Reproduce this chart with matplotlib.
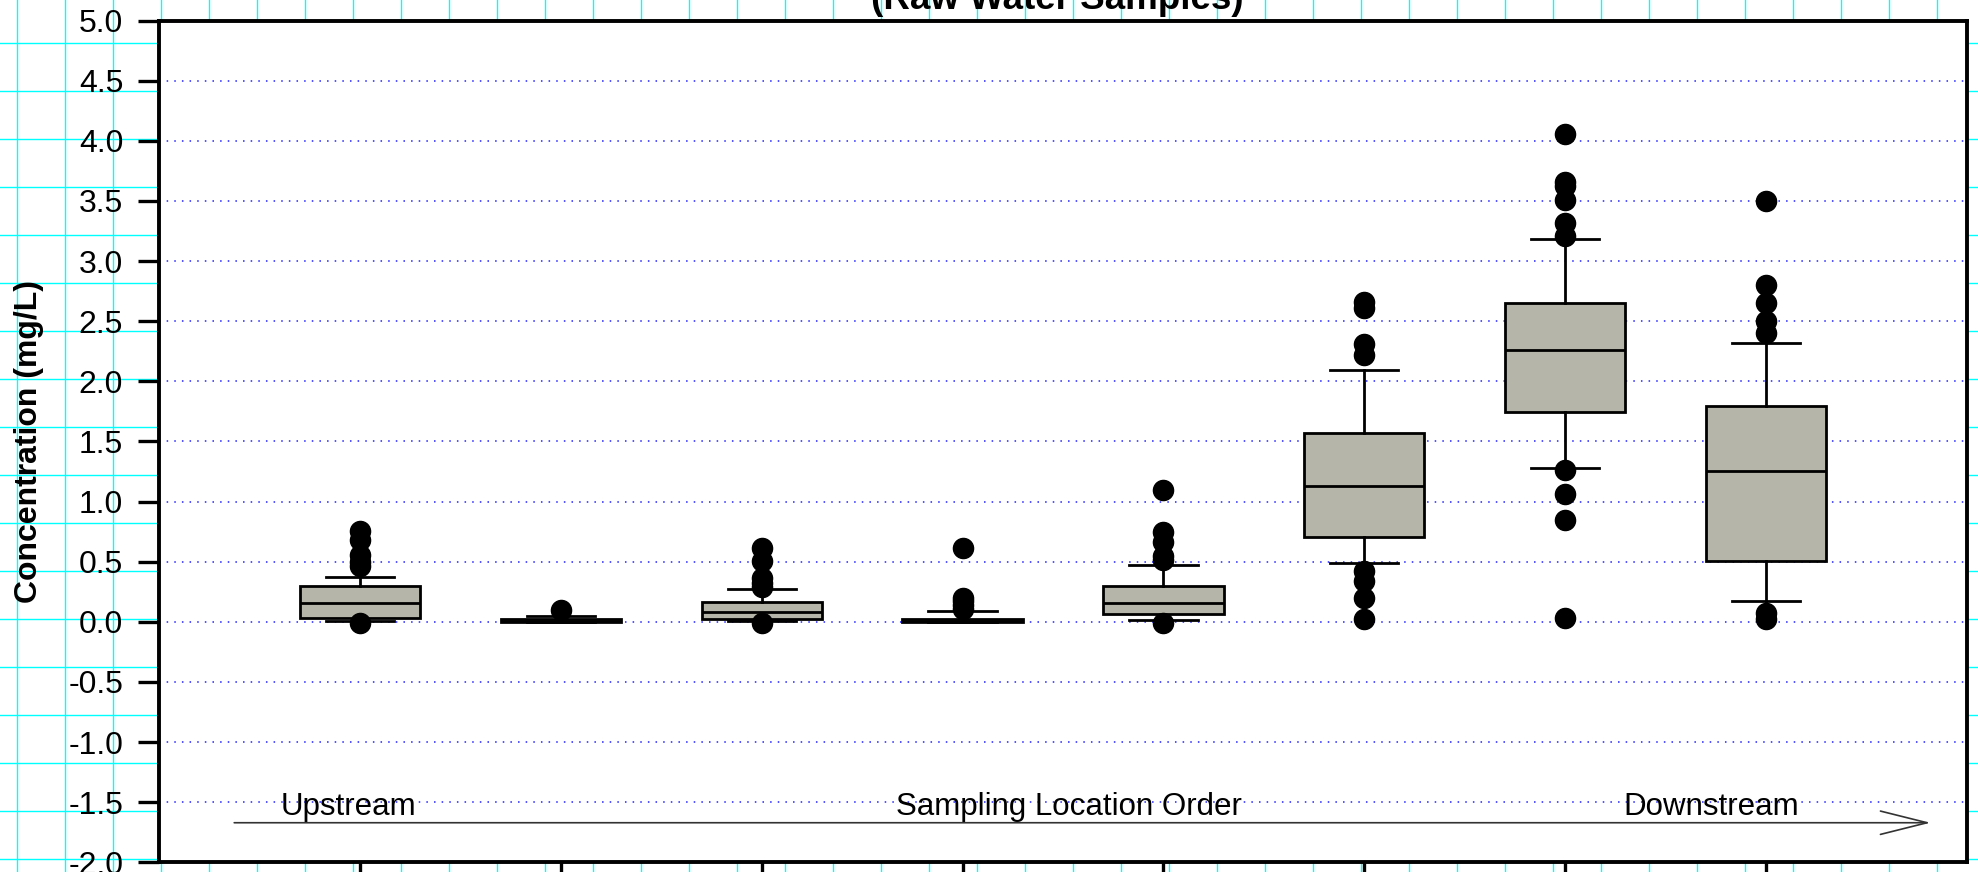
import numpy as np
import matplotlib
matplotlib.use('Agg')
from matplotlib import pyplot as plt

# box statistics per sampling location (upstream -> downstream)
q1 = [0.033, 0.0, 0.022, 0.0, 0.064, 0.706, 1.745, 0.505]
med = [0.153, 0.01, 0.078, 0.008, 0.153, 1.129, 2.261, 1.25]
q3 = [0.30, 0.025, 0.161, 0.02, 0.30, 1.573, 2.647, 1.797]
whislo = [0.01, 0.0, 0.01, 0.0, 0.014, 0.491, 1.278, 0.17]
whishi = [0.374, 0.05, 0.272, 0.089, 0.469, 2.097, 3.183, 2.318]
fliers = [
    [0.756, 0.68, 0.556, 0.5, 0.465, -0.01],
    [0.097],
    [0.61, 0.507, 0.36, 0.32, 0.29, -0.01],
    [0.615, 0.2, 0.17, 0.14, 0.11],
    [1.10, 0.748, 0.665, 0.55, 0.51, -0.01],
    [2.66, 2.61, 2.31, 2.22, 0.42, 0.34, 0.2, 0.02],
    [4.06, 3.66, 3.62, 3.51, 3.32, 3.21, 1.26, 1.06, 0.85, 0.03],
    [3.50, 2.80, 2.65, 2.50, 2.40, 0.07, 0.02],
]
y_ticks = np.arange(-2.0, 5.01, 0.5)

W, H = 1978, 872


def pre_config():
    plt.rcParams['font.family'] = ['Liberation Sans', 'DejaVu Sans']


def graph_paper(fig):
    # cyan grid behind everything, in pixel units
    bg = fig.add_axes([0, 0, 1, 1], zorder=-1)
    bg.set_xlim(0, W)
    bg.set_ylim(H, 0)
    bg.axis('off')
    for x in np.arange(17.3, W, 48):
        bg.axvline(x, color='#00ffff', lw=1.0)
    for y in np.arange(43.3, H, 48):
        bg.axhline(y, color='#00ffff', lw=1.0)


def box_plot(ax):
    stats = []
    for i in range(len(med)):
        stats.append(dict(med=med[i], q1=q1[i], q3=q3[i], whislo=whislo[i],
                          whishi=whishi[i], fliers=fliers[i]))
    ax.bxp(stats, positions=range(1, len(med) + 1), widths=0.6,
           patch_artist=True, capwidths=0.34,
           boxprops=dict(facecolor='#b6b5aa', edgecolor='black', linewidth=2.0),
           medianprops=dict(color='black', linewidth=2.0),
           whiskerprops=dict(color='black', linewidth=2.0),
           capprops=dict(color='black', linewidth=2.0),
           flierprops=dict(marker='o', markerfacecolor='black',
                           markeredgecolor='black', markersize=14.5))


def main():
    pre_config()
    fig = plt.figure(figsize=(W / 100, H / 100), dpi=100)
    graph_paper(fig)

    left, right, top, bottom = 159.3, 1966.7, 20.5, 862.3
    ax = fig.add_axes([left / W, (H - bottom) / H, (right - left) / W, (bottom - top) / H])
    ax.set_facecolor('white')
    box_plot(ax)

    ax.set_xlim(0, 9)
    ax.set_ylim(-2.0, 5.0)
    ax.set_xticks(range(1, 9))
    ax.set_xticklabels([''] * 8)
    ax.set_yticks(y_ticks)
    ax.set_yticklabels(['{:.1f}'.format(v) for v in y_ticks], fontsize=23)
    ax.tick_params(direction='out', length=15, width=2.4, pad=11)
    for s in ax.spines.values():
        s.set_linewidth(2.8)
    ax.set_axisbelow(True)
    ax.yaxis.grid(True, color='#2424ff', linestyle=(0, (1, 4)), linewidth=1.1)

    ax.set_ylabel('Concentration (mg/L)', fontsize=23, fontweight='bold')
    ax.yaxis.label.set_va('center')
    ax.yaxis.set_label_coords((29 - left) / (right - left), 0.5)

    ax.text(0.94, -1.61, 'Upstream', fontsize=22.5, ha='center', va='baseline')
    ax.text(4.53, -1.61, 'Sampling Location Order', fontsize=22.5, ha='center', va='baseline')
    ax.text(7.73, -1.61, 'Downstream', fontsize=22.5, ha='center', va='baseline')
    ax.annotate('', xy=(8.82, -1.671), xytext=(0.373, -1.671),
                arrowprops=dict(arrowstyle='->,head_length=2.4,head_width=0.6',
                                lw=1.2, color='#333333', shrinkA=0, shrinkB=0,
                                mutation_scale=14))

    # title sits mostly above the visible area
    fig.text(1057 / W, (H - 9) / H, '(Raw Water Samples)', fontsize=26.5,
             fontweight='bold', ha='center', va='baseline')

    fig.savefig('out.png', dpi=100)


if __name__ == '__main__':
    main()
